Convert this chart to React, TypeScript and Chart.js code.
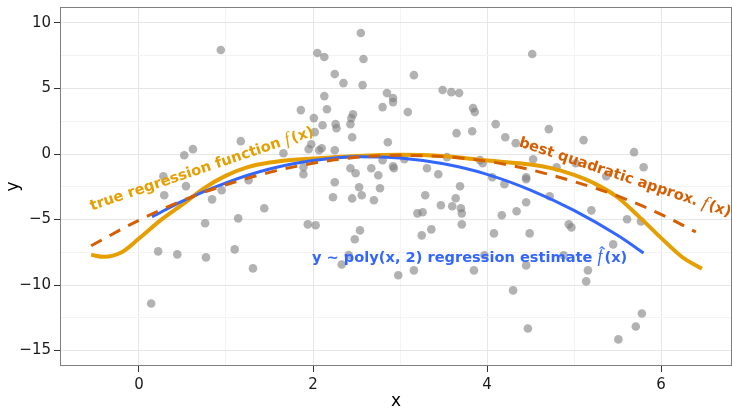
import React, { useEffect, useRef } from 'react';
import { Chart, registerables } from 'chart.js';

Chart.register(...registerables);

// observed data
const obsX = [
  0.14, 0.22, 0.28, 0.29, 0.44, 0.52, 0.54, 0.62, 0.76, 0.77, 0.84, 0.94, 0.95, 1.10, 1.14, 1.17, 1.26, 1.31, 1.44, 1.66,
  1.86, 1.89, 1.89, 1.94, 1.95, 1.98, 2.01, 2.02, 2.03, 2.05, 2.07, 2.10, 2.11, 2.13, 2.13, 2.16, 2.23, 2.25, 2.25, 2.25,
  2.26, 2.27, 2.33, 2.35, 2.41, 2.44, 2.46, 2.43, 2.45, 2.43, 2.45, 2.48, 2.49, 2.53, 2.54, 2.55, 2.56, 2.57, 2.58, 2.67,
  2.70, 2.75, 2.77, 2.80, 2.80, 2.85, 2.86, 2.92, 2.92, 2.92, 2.93, 2.98, 3.05, 3.09, 3.16, 3.16, 3.20, 3.25, 3.26, 3.29,
  3.31, 3.36, 3.44, 3.47, 3.49, 3.54, 3.59, 3.60, 3.64, 3.65, 3.68, 3.69, 3.70, 3.71, 3.71, 3.83, 3.84, 3.85, 3.86, 3.92,
  3.95, 3.97, 4.06, 4.08, 4.10, 4.17, 4.20, 4.21, 4.30, 4.33, 4.34, 4.45, 4.45, 4.45, 4.45, 4.47, 4.49, 4.52, 4.53, 4.71,
  4.72, 4.80, 4.88, 4.94, 4.97, 5.02, 5.11, 5.14, 5.16, 5.20, 5.37, 5.45, 5.51, 5.61, 5.69, 5.71, 5.77, 5.78, 5.80,
];
const obsY = [
  -11.41, -7.43, -1.70, -3.15, -7.66, -0.09, -2.45, 0.37, -5.29, -7.89, -3.46, 7.94, -2.77, -7.28, -4.91, 0.98, -2.00, -8.73, -4.14, 0.06,
  3.35, -1.01, -1.54, -5.37, 0.37, 0.75, 2.74, 1.67, -5.44, 7.71, 0.29, 0.44, 2.20, 7.40, 4.42, 3.42, -3.30, 6.10, 0.29, -2.16,
  2.28, 1.97, -8.43, 5.41, -7.72, 2.74, 3.04, 2.28, 1.28, -1.09, -3.39, -6.51, -1.47, -2.54, -5.83, 9.24, -3.15, 5.26, 7.25, -1.09,
  -3.53, -1.62, -2.61, 3.58, -0.47, 4.65, 0.90, 4.27, 3.96, -0.93, -1.09, -9.25, -0.40, 3.20, 6.02, -8.88, -4.53, -6.21, -4.45, -3.15,
  -1.09, -5.75, -1.54, -3.91, 4.88, -0.24, 4.72, -3.99, -3.38, 1.59, 4.65, -2.46, -4.14, -4.53, -5.37, 1.74, 3.50, -8.88, 3.20, -0.47,
  -0.70, -7.73, -1.77, -6.06, 2.28, -4.68, -2.31, 1.28, -10.41, 0.83, -4.37, -1.77, -1.93, -3.68, -8.50, -13.32, -6.06, 7.63, -0.40, 1.90,
  -3.23, -1.01, -7.73, -5.37, -5.60, -0.70, 1.06, -9.72, -8.88, -4.30, -1.70, -6.90, -14.15, -4.98, 0.14, -13.16, -5.14, -12.17, -1.01,
];

// true regression function f(x)
const trueX = [-0.55, -0.4, -0.2, 0, 0.25, 0.5, 0.75, 1.0, 1.25, 1.5, 1.75, 2.0, 2.5, 3.0, 3.5, 4.0, 4.5, 4.75, 5.0, 5.25, 5.5, 5.75, 6.0, 6.25, 6.47];
const trueY = [-7.7, -7.85, -7.5, -6.45, -5.05, -3.85, -2.6, -1.65, -1.0, -0.65, -0.45, -0.35, -0.15, -0.05, -0.15, -0.5, -0.8, -1.1, -1.6, -2.3, -3.3, -4.8, -6.4, -7.9, -8.75];

// best quadratic approximation
const quadX = [-0.55, 0, 0.5, 1, 1.5, 2, 2.5, 3, 3.5, 4, 4.5, 5, 5.5, 6, 6.4];
const quadY = [-7.0, -5.05, -3.55, -2.35, -1.4, -0.7, -0.25, -0.1, -0.2, -0.55, -1.2, -2.1, -3.2, -4.6, -5.95];

// y ~ poly(x, 2) regression estimate
const fitX = [0.15, 0.5, 1, 1.5, 2, 2.5, 3, 3.5, 4, 4.5, 5, 5.5, 5.8];
const fitY = [-4.8, -3.6, -2.2, -1.15, -0.5, -0.2, -0.3, -0.75, -1.55, -2.75, -4.3, -6.2, -7.55];

// axes
const xMajor = [0, 2, 4, 6];
const xMinor = [1, 3, 5];
const yMajor = [-15, -10, -5, 0, 5, 10];
const yMinor = [-12.5, -7.5, -2.5, 2.5, 7.5];
const xTickLabels = ['0', '2', '4', '6'];
const yTickLabels = ['\u221215', '\u221210', '\u22125', '0', '5', '10'];

const annotationTexts = ['true regression function ', 'best quadratic approx. ', 'y ~ poly(x, 2) regression estimate '];
const annotationX = [0.72, 5.59, 3.80];
const annotationY = [-1.08, -1.72, -7.89];
const annotationAngle = [-18.6, 18.5, 0];
const annotationHat = [false, false, true];

const ORANGE = '#E69F00';
const VERMILION = '#D55E00';
const BLUE = '#3366FF';
const annotationColor = [ORANGE, VERMILION, BLUE];

const SANS = '"DejaVu Sans", sans-serif';

const annotationPlugin = {
  id: 'annotations',
  afterDatasetsDraw(chart: any) {
    const ctx: CanvasRenderingContext2D = chart.ctx;
    const xs = chart.scales.x;
    const ys = chart.scales.y;
    const a = chart.chartArea;
    ctx.save();
    ctx.strokeStyle = '#7f7f7f';
    ctx.lineWidth = 1;
    ctx.strokeRect(a.left + 0.5, a.top + 0.5, a.right - a.left - 1, a.bottom - a.top - 1);
    ctx.restore();

    for (let i = 0; i < annotationTexts.length; i++) {
      const px = xs.getPixelForValue(annotationX[i]);
      const py = ys.getPixelForValue(annotationY[i]);
      ctx.save();
      ctx.translate(px, py);
      ctx.rotate((annotationAngle[i] * Math.PI) / 180);
      ctx.fillStyle = annotationColor[i];
      ctx.textBaseline = 'alphabetic';
      ctx.textAlign = 'left';
      const boldFont = `bold 14.6px ${SANS}`;
      const fFont = `italic 18px "Liberation Serif", serif`;
      ctx.font = boldFont;
      const w1 = ctx.measureText(annotationTexts[i]).width;
      const w3 = ctx.measureText('(x)').width;
      ctx.font = fFont;
      const w2 = ctx.measureText('f').width + 2;
      const total = w1 + w2 + w3;
      let cx = -total / 2;
      const base = 5;
      ctx.font = boldFont;
      ctx.fillText(annotationTexts[i], cx, base);
      cx += w1;
      ctx.font = fFont;
      ctx.fillText('f', cx, base);
      if (annotationHat[i]) {
        ctx.font = `16px "Liberation Serif", serif`;
        ctx.textAlign = 'center';
        ctx.fillText('\u02C6', cx + w2 / 2 + 1, base - 4);
        ctx.textAlign = 'left';
      }
      cx += w2;
      ctx.font = boldFont;
      ctx.fillText('(x)', cx, base);
      ctx.restore();
    }
  },
};

export default function App() {
  const ref = useRef<HTMLCanvasElement | null>(null);
  useEffect(() => {
    if (!ref.current) return;
    Chart.defaults.font.family = SANS;
    const minorColor = '#f3f3f3';
    const majorColor = '#e6e6e6';
    const chart = new Chart(ref.current, {
      type: 'scatter',
      data: {
        datasets: [
          {
            type: 'line',
            label: 'quad',
            data: quadX.map((x, i) => ({ x, y: quadY[i] })),
            borderColor: VERMILION,
            borderWidth: 3,
            borderDash: [12, 9],
            pointRadius: 0,
            cubicInterpolationMode: 'monotone',
            fill: false,
            order: 1,
          } as any,
          {
            type: 'line',
            label: 'fit',
            data: fitX.map((x, i) => ({ x, y: fitY[i] })),
            borderColor: BLUE,
            borderWidth: 3,
            pointRadius: 0,
            cubicInterpolationMode: 'monotone',
            fill: false,
            order: 2,
          } as any,
          {
            type: 'line',
            label: 'true',
            data: trueX.map((x, i) => ({ x, y: trueY[i] })),
            borderColor: ORANGE,
            borderWidth: 4,
            pointRadius: 0,
            cubicInterpolationMode: 'monotone',
            fill: false,
            order: 3,
          } as any,
          {
            type: 'scatter',
            label: 'obs',
            data: obsX.map((x, i) => ({ x, y: obsY[i] })),
            backgroundColor: 'rgba(127,127,127,0.6)',
            borderWidth: 0,
            pointRadius: 4.3,
            order: 4,
          } as any,
        ],
      },
      options: {
        animation: false,
        responsive: false,
        devicePixelRatio: 1,
        layout: { autoPadding: false, padding: { top: 7, right: 0, left: 0, bottom: 0 } },
        plugins: { legend: { display: false }, tooltip: { enabled: false } },
        scales: {
          x: {
            type: 'linear',
            min: -0.908,
            max: 6.816,
            afterBuildTicks: (scale: any) => {
              scale.ticks = [...xMajor, ...xMinor].sort((p, q) => p - q).map((v) => ({ value: v }));
            },
            afterFit: (scale: any) => {
              scale.height = 42;
              scale.paddingLeft = 0;
              scale.paddingRight = 0;
            },
            border: { display: false },
            grid: {
              color: (c: any) => (c.tick && xMinor.includes(c.tick.value) ? minorColor : majorColor),
              tickColor: (c: any) => (c.tick && xMinor.includes(c.tick.value) ? 'rgba(0,0,0,0)' : '#333333'),
              tickLength: 6,
              lineWidth: 1,
            },
            ticks: {
              autoSkip: false,
              maxRotation: 0,
              padding: 4,
              color: '#1a1a1a',
              font: { size: 15 },
              callback: (v: any) => {
                const k = xMajor.indexOf(Number(v));
                return k >= 0 ? xTickLabels[k] : '';
              },
            },
            title: {
              display: true,
              text: 'x',
              color: '#000',
              font: { size: 17, lineHeight: 1 },
              padding: { top: 0, bottom: -2 },
            },
          },
          y: {
            type: 'linear',
            min: -16.18,
            max: 11.22,
            afterBuildTicks: (scale: any) => {
              scale.ticks = [...yMajor, ...yMinor].sort((p, q) => p - q).map((v) => ({ value: v }));
            },
            afterFit: (scale: any) => {
              scale.width = 60;
              scale.paddingTop = 0;
              scale.paddingBottom = 0;
            },
            border: { display: false },
            grid: {
              color: (c: any) => (c.tick && yMinor.includes(c.tick.value) ? minorColor : majorColor),
              tickColor: (c: any) => (c.tick && yMinor.includes(c.tick.value) ? 'rgba(0,0,0,0)' : '#333333'),
              tickLength: 6,
              lineWidth: 1,
            },
            ticks: {
              autoSkip: false,
              padding: 3,
              color: '#1a1a1a',
              font: { size: 15 },
              callback: (v: any) => {
                const k = yMajor.indexOf(Number(v));
                return k >= 0 ? yTickLabels[k] : '';
              },
            },
            title: {
              display: true,
              text: 'y',
              color: '#000',
              font: { size: 17, lineHeight: 1 },
              padding: { top: 5, bottom: 0 },
            },
          },
        },
      } as any,
      plugins: [annotationPlugin],
    });
    return () => chart.destroy();
  }, []);

  return (
    <div style={{ position: 'absolute', left: 0, top: 0, width: 732, height: 408, background: '#fff' }}>
      <canvas ref={ref} width={732} height={408} style={{ display: 'block' }} />
    </div>
  );
}
